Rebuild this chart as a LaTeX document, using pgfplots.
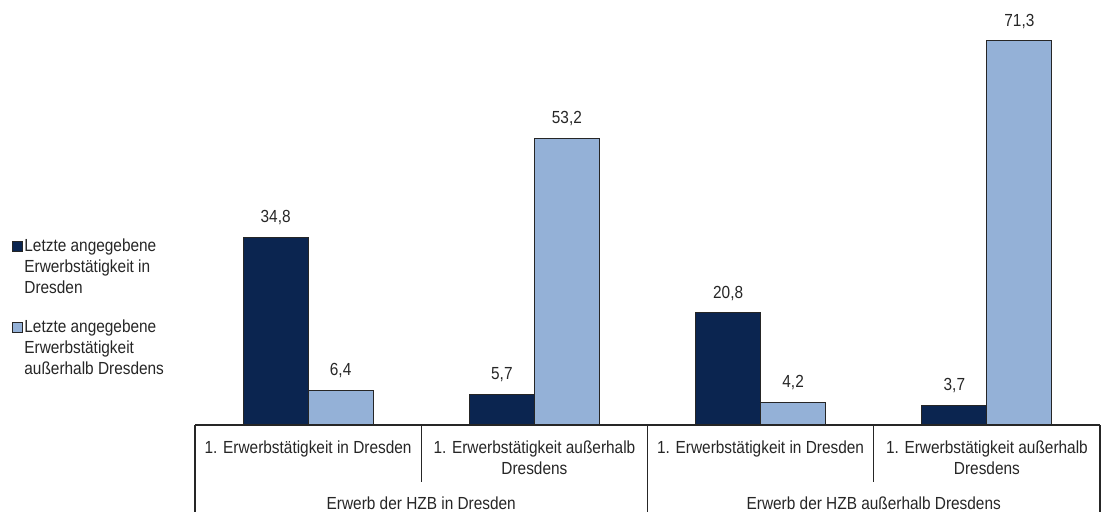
\documentclass[border=0pt]{standalone}
\usepackage{pgfplots}
\pgfplotsset{compat=1.18}
\usepackage{fontspec}
\setmainfont{Liberation Sans}[FakeStretch=0.88]
\definecolor{darkbar}{HTML}{0B2550}
\definecolor{lightbar}{HTML}{94B1D7}
\newcommand\cf{\fontsize{17.5}{21}\selectfont}
\begin{document}
\begin{tikzpicture}[font=\cf]
\useasboundingbox (0pt,0pt) rectangle (1103pt,512pt);
\begin{axis}[
  at={(195pt,87pt)}, anchor=south west,
  width=905pt, height=425pt, scale only axis,
  xmin=0, xmax=4, ymin=0, ymax=78.91,
  axis lines=none, clip=false,
  ybar=0pt, bar width=65pt,
  nodes near coords,
  every node near coord/.append style={font=\cf, anchor=south, yshift=10pt, inner sep=2pt, text=black!85},
  /pgf/number format/.cd, use comma, fixed, fixed zerofill, precision=1, assume math mode=true,
  /pgfplots/.cd,
  legend style={at={(rel axis cs:-0.2022,0.4425)}, anchor=north west, draw=none, fill=none,
    font=\cf, row sep=64pt, inner sep=0pt, outer sep=0pt, text=black!85,
    nodes={inner sep=1.5pt, anchor=base west}},
  legend cell align=left,
  legend image code/.code={\draw[#1, draw=black!85, line width=0.9pt] (0pt,0pt) rectangle (10pt,10pt);},
]
\addplot[fill=darkbar, draw=black!85, line width=1pt] coordinates {(0.5,34.8) (1.5,5.7) (2.5,20.8) (3.5,3.7)};
\addlegendentry{\parbox[t]{160pt}{Letzte angegebene\\Erwerbstätigkeit in\\Dresden}}
\addplot[fill=lightbar, draw=black!85, line width=1pt] coordinates {(0.5,6.4) (1.5,53.2) (2.5,4.2) (3.5,71.3)};
\addlegendentry{\parbox[t]{160pt}{Letzte angegebene\\Erwerbstätigkeit\\außerhalb Dresdens}}
\end{axis}
% category table
\draw[line width=1.3pt, black!85] (195pt,87pt) -- (1100pt,87pt);
\draw[line width=1.3pt, black!85] (195pt,87pt) -- (195pt,0pt);
\draw[line width=1.3pt, black!85] (647.5pt,87pt) -- (647.5pt,0pt);
\draw[line width=1.3pt, black!85] (1100pt,87pt) -- (1100pt,0pt);
\draw[line width=1.3pt, black!85] (421.25pt,87pt) -- (421.25pt,30pt);
\draw[line width=1.3pt, black!85] (873.75pt,87pt) -- (873.75pt,30pt);
\foreach \cx/\t in {308.1/{1. Erwerbstätigkeit in Dresden}, 534.4/{1. Erwerbstätigkeit außerhalb\\Dresdens}, 760.6/{1. Erwerbstätigkeit in Dresden}, 986.9/{1. Erwerbstätigkeit außerhalb\\Dresdens}}
  \node[anchor=north, inner sep=0pt, align=center, text=black!85] at (\cx pt, 71pt) {\t};
\node[anchor=base, inner sep=0pt, text=black!85] at (421.25pt, 3pt) {Erwerb der HZB in Dresden};
\node[anchor=base, inner sep=0pt, text=black!85] at (873.75pt, 3pt) {Erwerb der HZB außerhalb Dresdens};
\end{tikzpicture}
\end{document}
